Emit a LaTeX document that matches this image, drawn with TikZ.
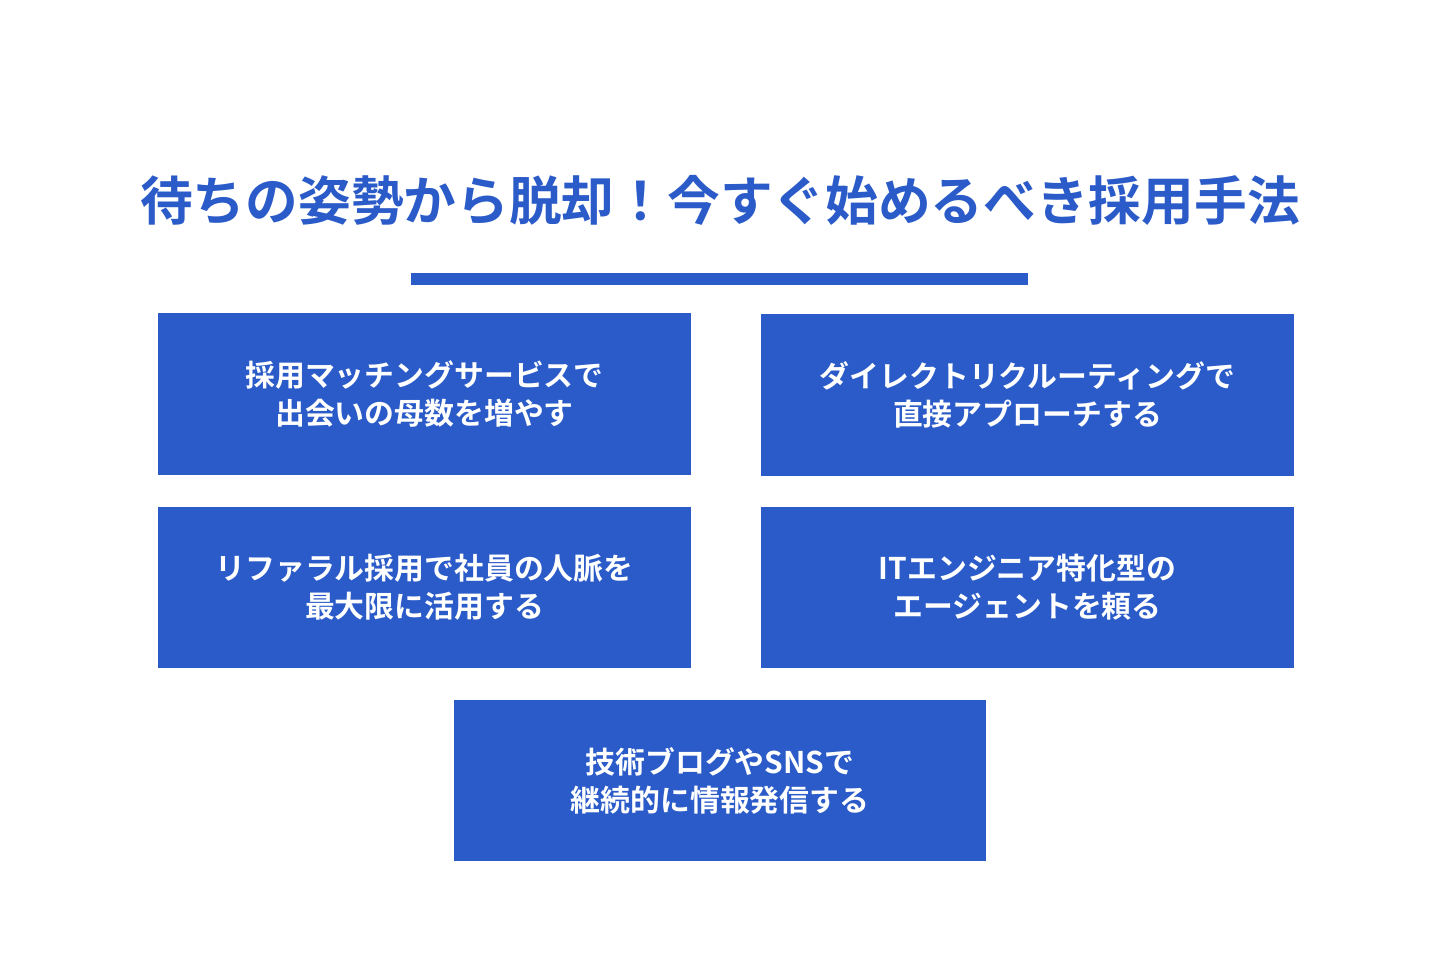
\documentclass[tikz,border=0pt]{standalone}
\usepackage{fontspec}
\setmainfont{Noto Sans CJK JP}[BoldFont={* Bold}]
\definecolor{methodblue}{HTML}{2A5BC8}
\tikzset{
  method/.style={fill=methodblue, minimum width=10.66cm, minimum height=3.24cm,
    text=white, align=center, font=\fontsize{17}{21.6}\selectfont\bfseries, inner sep=0pt},
}
\begin{document}
\begin{tikzpicture}[x=0.02cm,y=-0.02cm]
\useasboundingbox[fill=white] (0,0) rectangle (1440,960);
\node[text=methodblue, font=\fontsize{30}{36}\selectfont\bfseries] (title) at (720,200) {待ちの姿勢から脱却！今すぐ始めるべき採用手法};
\fill[methodblue] (411,273) rectangle (1028,285);

\node[method] (match) at (424.5,394) {採用マッチングサービスで\\出会いの母数を増やす};
\node[method] (direct) at (1027.5,395) {ダイレクトリクルーティングで\\直接アプローチする};
\node[method] (referral) at (424.5,587.5) {リファラル採用で社員の人脈を\\最大限に活用する};
\node[method] (agent) at (1027.5,587.5) {ITエンジニア特化型の\\エージェントを頼る};
\node[method] (blog) at (720,780.5) {技術ブログやSNSで\\継続的に情報発信する};
\end{tikzpicture}
\end{document}
